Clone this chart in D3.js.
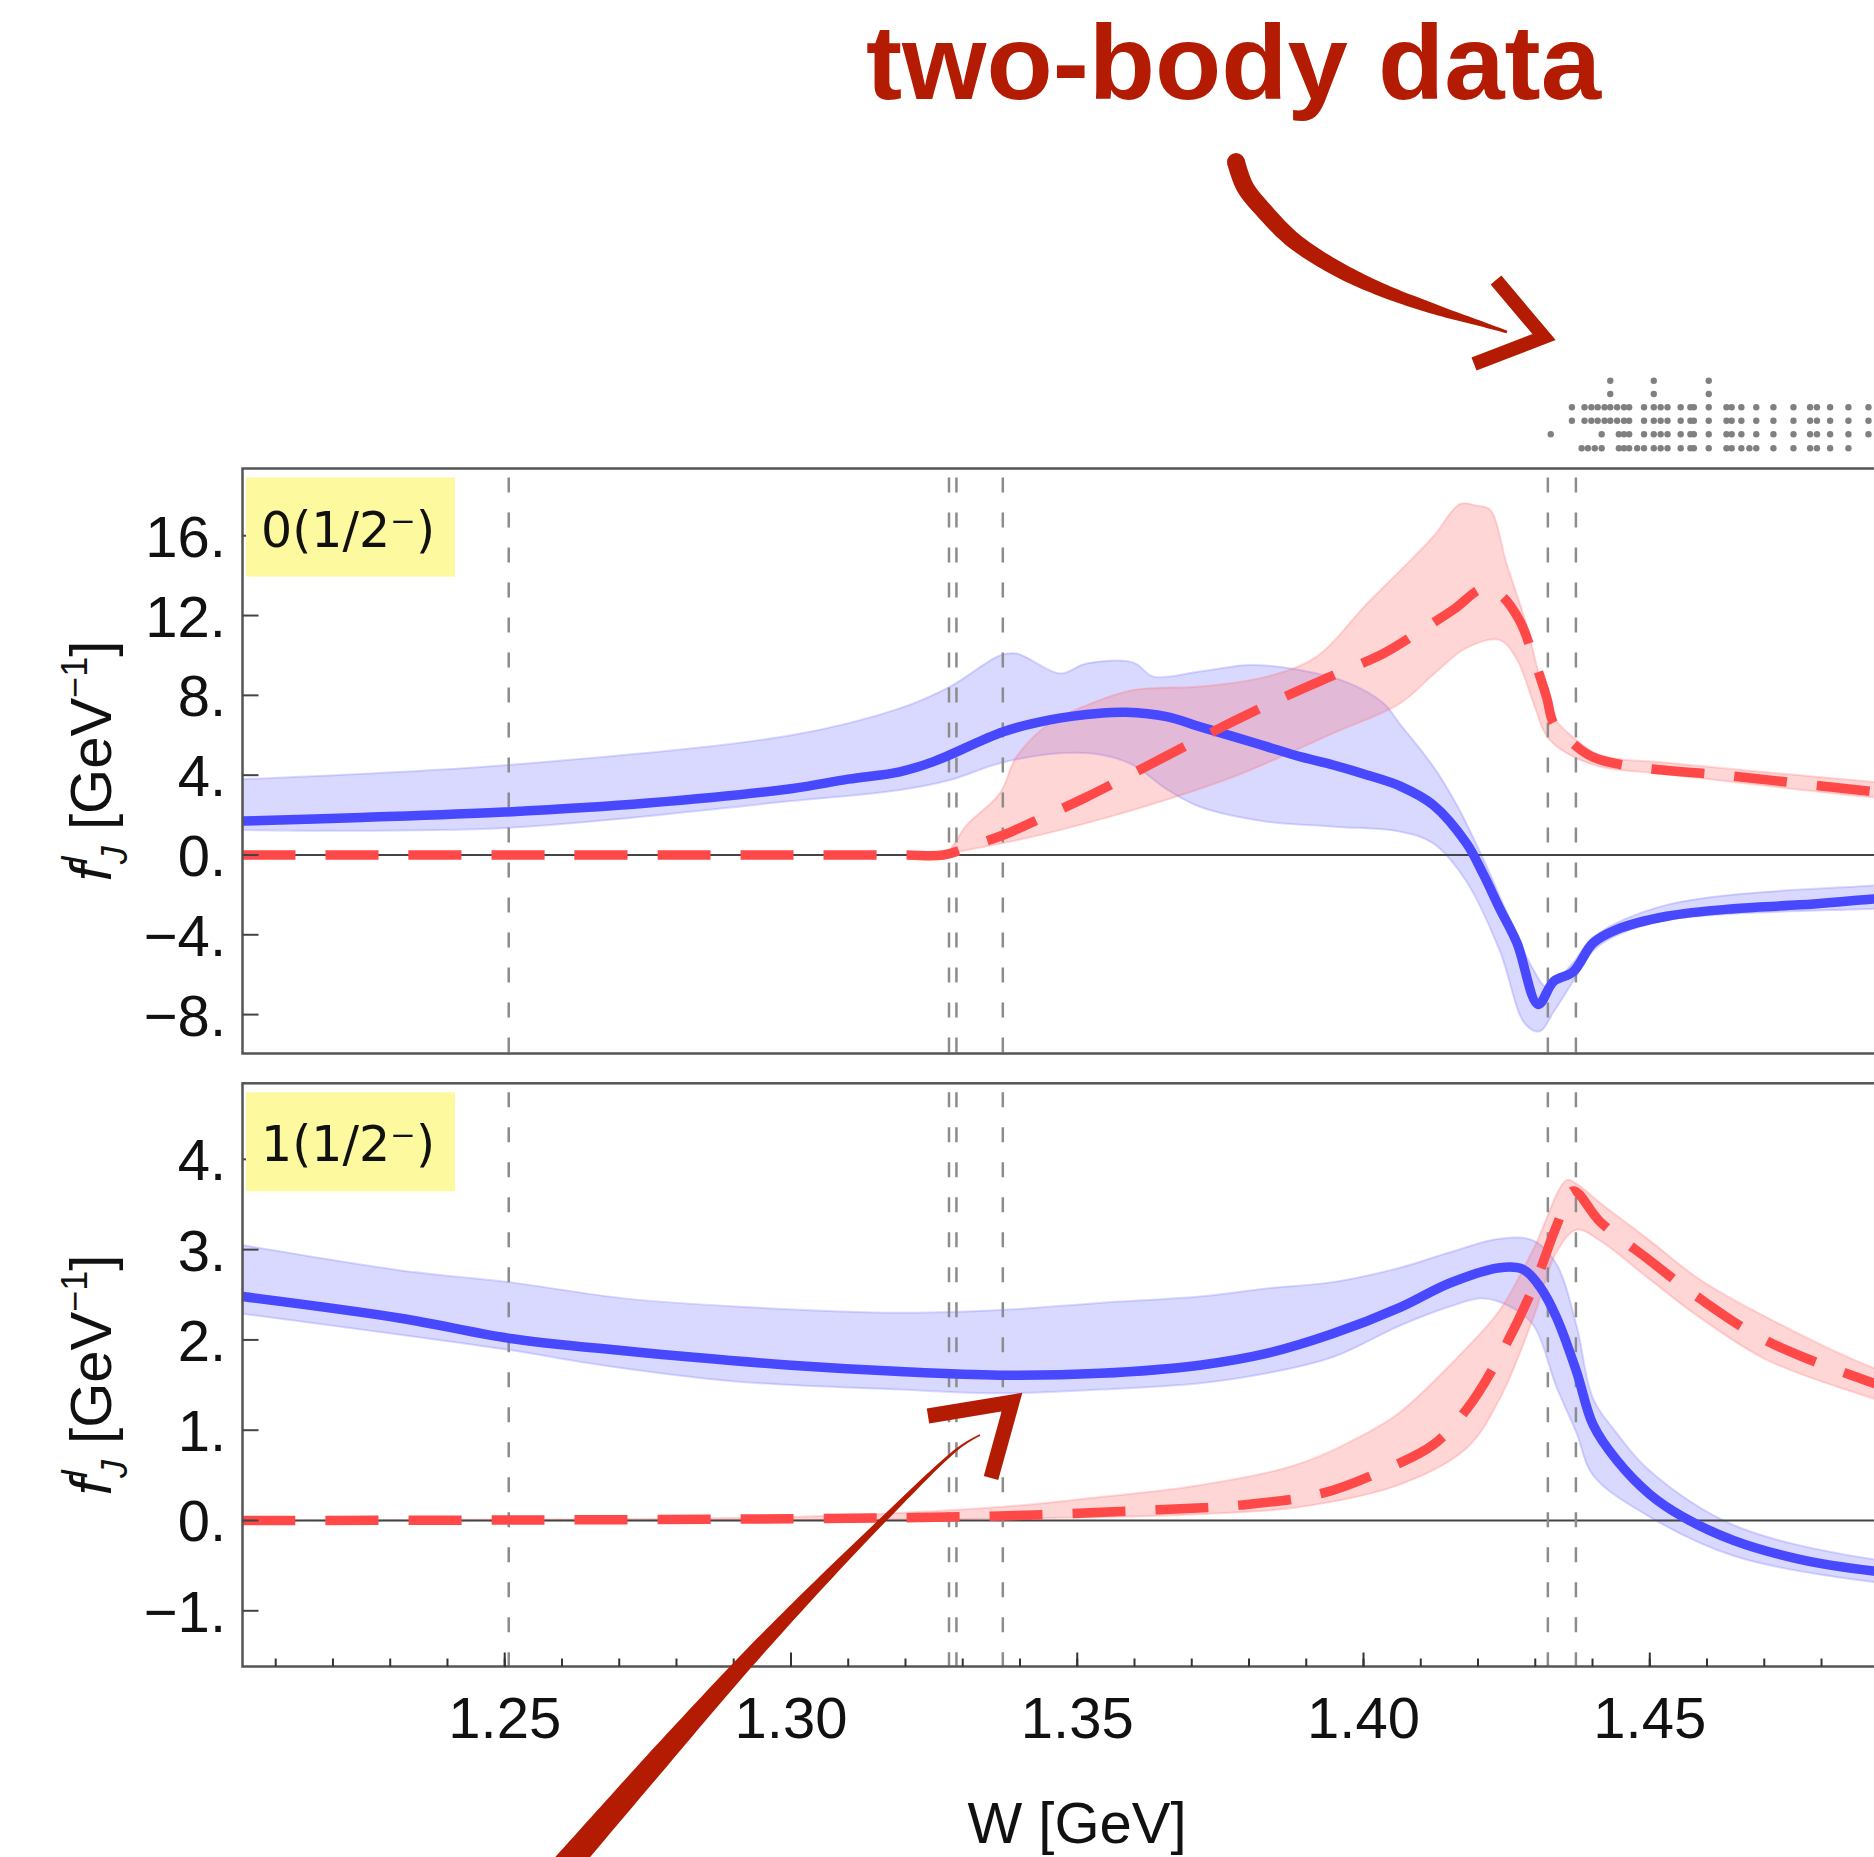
<!DOCTYPE html>
<html><head><meta charset="utf-8">
<script src="https://cdn.jsdelivr.net/npm/d3@7"></script>
<style>html,body{margin:0;padding:0;background:#fff;overflow:hidden}</style>
</head><body><svg id="c" width="1874" height="1857" xmlns="http://www.w3.org/2000/svg"></svg>
<script>
// ---------------- data ----------------
const thresholds = [1.2507, 1.3276, 1.3289, 1.3370, 1.4322, 1.4371];
const xTicksMajor = [1.25, 1.30, 1.35, 1.40, 1.45, 1.50];
const xTicksMinor = d3.range(121, 155).map(d => d / 100);
const yTicksTop = [-8, -4, 0, 4, 8, 12, 16];
const yTicksBot = [-1, 0, 1, 2, 3, 4];
const panelLabels = ["0(1/2\u207B)", "1(1/2\u207B)"];

// top panel, I=0
const topBlueLine = [[1.2042,1.70],[1.225,1.88],[1.25,2.15],[1.275,2.6],[1.30,3.32],[1.31,3.8],[1.319,4.17],[1.3249,4.68],[1.3371,6.18],[1.3452,6.77],[1.354,7.10],[1.3585,7.15],[1.3656,6.93],[1.3714,6.43],[1.3773,5.93],[1.3831,5.43],[1.3889,4.93],[1.3947,4.51],[1.4006,4.01],[1.4064,3.45],[1.4122,2.5],[1.418,0.58],[1.4209,-0.95],[1.4238,-2.69],[1.4268,-4.41],[1.4305,-7.49],[1.4332,-6.34],[1.4366,-5.86],[1.4401,-4.41],[1.4442,-3.74],[1.453,-3.07],[1.4646,-2.69],[1.4762,-2.50],[1.4891,-2.21],[1.50,-2.0]];
const topBlueHi = [[1.2042,3.8],[1.25,4.5],[1.30,6.0],[1.319,7.35],[1.3278,8.44],[1.3365,10.0],[1.3394,10.1],[1.347,9.1],[1.3516,9.6],[1.3598,9.64],[1.3633,8.94],[1.3714,9.19],[1.3802,9.52],[1.3889,9.27],[1.3976,8.6],[1.4035,7.6],[1.4064,6.55],[1.4122,4.43],[1.4163,2.5],[1.4209,-0.19],[1.4256,-3.26],[1.4297,-5.76],[1.432,-6.6],[1.4366,-5.4],[1.4401,-4.13],[1.453,-2.5],[1.4891,-1.53],[1.50,-1.4]];
const topBlueLo = [[1.2042,1.25],[1.25,1.35],[1.30,2.7],[1.319,3.26],[1.3278,3.76],[1.3365,4.6],[1.347,5.1],[1.3545,5.0],[1.3598,4.5],[1.3656,3.3],[1.3714,2.42],[1.3831,1.67],[1.3947,1.42],[1.4064,1.17],[1.4122,0.58],[1.418,-1.34],[1.4238,-4.8],[1.4282,-8.46],[1.4308,-8.84],[1.4332,-7.87],[1.4366,-6.34],[1.4401,-4.8],[1.4442,-4.03],[1.453,-3.26],[1.4891,-2.69],[1.50,-2.6]];
const topRedLine = [[1.2042,0],[1.23,0],[1.26,0],[1.29,0],[1.31,0],[1.32,0],[1.3266,0],[1.332,0.5],[1.3371,1.0],[1.3441,1.9],[1.3516,2.9],[1.3598,4.1],[1.3685,5.4],[1.3773,6.7],[1.386,7.9],[1.3947,9.0],[1.4035,10.1],[1.4087,11.0],[1.4157,12.3],[1.4209,13.36],[1.4238,13.07],[1.4273,11.73],[1.4297,9.9],[1.432,7.88],[1.4332,6.6],[1.4366,5.58],[1.4401,4.9],[1.4471,4.43],[1.4646,3.95],[1.4891,3.17],[1.50,2.9]];
const topRedHi = [[1.2042,0],[1.23,0],[1.26,0],[1.29,0],[1.31,0],[1.32,0],[1.3266,0],[1.3307,1.5],[1.3365,3.1],[1.3394,4.93],[1.3452,6.6],[1.351,7.43],[1.3598,8.27],[1.3714,8.44],[1.3831,8.94],[1.3918,9.94],[1.4006,12.6],[1.4064,14.25],[1.4122,15.96],[1.4169,17.6],[1.4198,17.5],[1.4221,17.3],[1.425,14.6],[1.4285,11.5],[1.4308,8.9],[1.4332,6.9],[1.4366,5.9],[1.4413,5.0],[1.453,4.62],[1.4891,3.66],[1.50,3.4]];
const topRedLo = [[1.2042,0],[1.23,0],[1.26,0],[1.29,0],[1.31,0],[1.32,0],[1.3266,0],[1.3278,0.08],[1.3423,0.92],[1.3598,2.26],[1.3773,3.92],[1.3947,6.1],[1.4064,7.6],[1.4122,9.04],[1.418,10.38],[1.4238,10.77],[1.4268,9.8],[1.4297,7.6],[1.432,5.96],[1.4355,5.1],[1.4413,4.43],[1.453,4.04],[1.4891,2.89],[1.50,2.7]];

// bottom panel, I=1
const botBlueLine = [[1.2042,2.48],[1.2318,2.24],[1.2506,2.02],[1.2708,1.88],[1.2825,1.81],[1.30,1.72],[1.319,1.65],[1.3365,1.61],[1.354,1.63],[1.3714,1.72],[1.3831,1.85],[1.3947,2.07],[1.4064,2.36],[1.4151,2.63],[1.4238,2.80],[1.4279,2.78],[1.4308,2.59],[1.4337,2.25],[1.4372,1.65],[1.4401,1.06],[1.4442,0.67],[1.45,0.29],[1.4558,0.04],[1.4646,-0.22],[1.4762,-0.43],[1.4891,-0.56],[1.50,-0.62]];
const botBlueHi = [[1.2042,3.05],[1.2318,2.77],[1.2506,2.64],[1.2708,2.46],[1.2903,2.37],[1.319,2.30],[1.3365,2.33],[1.354,2.41],[1.3714,2.48],[1.3831,2.57],[1.3947,2.64],[1.4064,2.80],[1.4151,2.97],[1.4238,3.12],[1.4297,3.10],[1.4337,2.84],[1.4372,2.16],[1.4401,1.35],[1.4442,0.97],[1.45,0.55],[1.4646,-0.05],[1.4891,-0.43],[1.50,-0.48]];
const botBlueLo = [[1.2042,2.29],[1.2506,1.89],[1.267,1.72],[1.2903,1.54],[1.319,1.45],[1.3365,1.41],[1.354,1.45],[1.3714,1.52],[1.3831,1.63],[1.3947,1.81],[1.4064,2.16],[1.4151,2.37],[1.4209,2.46],[1.4256,2.37],[1.4297,2.16],[1.4337,1.48],[1.4372,0.97],[1.4401,0.50],[1.45,0.04],[1.4646,-0.39],[1.4891,-0.68],[1.50,-0.72]];
const botRedLine = [[1.2042,0],[1.25,0.005],[1.30,0.02],[1.3365,0.05],[1.3642,0.12],[1.3784,0.17],[1.3927,0.30],[1.4043,0.58],[1.4122,0.84],[1.418,1.23],[1.4238,1.82],[1.4297,2.59],[1.4337,3.26],[1.4366,3.65],[1.4413,3.31],[1.45,2.88],[1.4587,2.46],[1.4704,1.99],[1.4891,1.52],[1.50,1.3]];
const botRedHi = [[1.2042,0],[1.25,0.01],[1.30,0.04],[1.3365,0.15],[1.354,0.26],[1.3714,0.39],[1.3889,0.63],[1.4006,0.97],[1.4064,1.2],[1.418,1.91],[1.4238,2.33],[1.4297,3.01],[1.4355,3.77],[1.4372,3.73],[1.4413,3.52],[1.45,3.10],[1.4587,2.67],[1.4704,2.25],[1.4891,1.69],[1.50,1.5]];
const botRedLo = [[1.2042,0],[1.27,0],[1.3365,0.02],[1.3714,0.07],[1.3889,0.15],[1.4064,0.4],[1.418,0.80],[1.4238,1.35],[1.4297,2.25],[1.4337,2.97],[1.4372,3.22],[1.4413,3.10],[1.45,2.67],[1.4587,2.25],[1.4704,1.78],[1.4891,1.35],[1.50,1.15]];

// "two-body data" sketch: W positions of grey data dots, one array per row (top row first)
const dotRows = [
  [1.4431, 1.4507, 1.4603],
  [1.4431, 1.4507, 1.4603],
  [1.4364, 1.4386, 1.4398, 1.4409, 1.4421, 1.4431, 1.4443, 1.4455, 1.4464, 1.4490, 1.4507, 1.4519, 1.4531, 1.4554, 1.4571, 1.4577, 1.4603, 1.4634, 1.4643, 1.4660, 1.4686, 1.4716, 1.4751, 1.4780, 1.4792, 1.4815, 1.4847, 1.4882],
  [1.4364, 1.4386, 1.4398, 1.4409, 1.4421, 1.4431, 1.4443, 1.4455, 1.4464, 1.4490, 1.4507, 1.4519, 1.4531, 1.4554, 1.4571, 1.4577, 1.4603, 1.4634, 1.4643, 1.4660, 1.4686, 1.4716, 1.4751, 1.4780, 1.4792, 1.4815, 1.4847, 1.4882],
  [1.4327, 1.4416, 1.4446, 1.4455, 1.4464, 1.4490, 1.4507, 1.4519, 1.4531, 1.4554, 1.4571, 1.4577, 1.4603, 1.4634, 1.4643, 1.4660, 1.4686, 1.4716, 1.4751, 1.4780, 1.4792, 1.4815, 1.4847, 1.4882],
  [1.4381, 1.4392, 1.4404, 1.4416, 1.4446, 1.4455, 1.4464, 1.4478, 1.4490, 1.4507, 1.4519, 1.4531, 1.4554, 1.4571, 1.4577, 1.4603, 1.4634, 1.4643, 1.4660, 1.4674, 1.4686, 1.4716, 1.4751, 1.4780, 1.4792, 1.4815, 1.4847]
];

// ---------------- drawing ----------------
const svg = d3.select("#c");
const FONT = "'Liberation Sans', Arial, Helvetica, sans-serif";
const BLUE = "#4848ff", RED = "#ff4848";
const x = d3.scaleLinear().domain([1.2042, 1.55]).range([242.5, 2222.3]);

const panels = [
  { y: d3.scaleLinear().domain([-9.95, 19.37]).range([1053.5, 468.5]), ticks: yTicksTop, label: panelLabels[0],
    blue: topBlueLine, blueHi: topBlueHi, blueLo: topBlueLo, red: topRedLine, redHi: topRedHi, redLo: topRedLo, xAxis: false },
  { y: d3.scaleLinear().domain([-1.617, 4.842]).range([1666.5, 1083.3]), ticks: yTicksBot, label: panelLabels[1],
    blue: botBlueLine, blueHi: botBlueHi, blueLo: botBlueLo, red: botRedLine, redHi: botRedHi, redLo: botRedLo, xAxis: true }
];

const fmtY = v => (v < 0 ? "\u2212" : "") + Math.abs(v) + ".";

panels.forEach((p, i) => {
  const [yb, yt] = p.y.range();
  const x0 = x.range()[0];
  const cid = "clip" + i;
  svg.append("clipPath").attr("id", cid).append("rect")
    .attr("x", x0).attr("y", yt).attr("width", 2000).attr("height", yb - yt);
  const g = svg.append("g").attr("clip-path", `url(#${cid})`);
  const line = d3.line().x(d => x(d[0])).y(d => p.y(d[1])).curve(d3.curveCatmullRom.alpha(0.5));
  const band = (hi, lo) => line(hi) + "L" + line(lo.slice().reverse()).slice(1) + "Z";

  g.append("path").attr("d", band(p.blueHi, p.blueLo))
    .attr("fill", "#4b4bff").attr("fill-opacity", 0.21)
    .attr("stroke", "#6a6aff").attr("stroke-opacity", 0.25).attr("stroke-width", 2);
  g.append("path").attr("d", band(p.redHi, p.redLo))
    .attr("fill", "#ff5a5a").attr("fill-opacity", 0.25)
    .attr("stroke", "#ff6a6a").attr("stroke-opacity", 0.25).attr("stroke-width", 2);

  // zero line
  g.append("line").attr("x1", x0).attr("x2", 1874).attr("y1", p.y(0)).attr("y2", p.y(0))
    .attr("stroke", "#444").attr("stroke-width", 2);

  // threshold lines
  g.selectAll(".thr").data(thresholds).join("line")
    .attr("x1", d => x(d)).attr("x2", d => x(d)).attr("y1", yt).attr("y2", yb)
    .attr("stroke", "#8c8c8c").attr("stroke-width", 2.5)
    .attr("stroke-dasharray", "15,20").attr("stroke-dashoffset", -9);

  g.append("path").attr("d", line(p.blue)).attr("fill", "none")
    .attr("stroke", BLUE).attr("stroke-width", 9.5).attr("stroke-linejoin", "round");
  g.append("path").attr("d", line(p.red)).attr("fill", "none")
    .attr("stroke", RED).attr("stroke-width", 9.5).attr("stroke-dasharray", "53,30");

  // frame
  svg.append("rect").attr("x", x0).attr("y", yt).attr("width", 2000).attr("height", yb - yt)
    .attr("fill", "none").attr("stroke", "#555").attr("stroke-width", 2.5);

  // y ticks
  svg.append("g").selectAll("line").data(p.ticks).join("line")
    .attr("x1", x0).attr("x2", x0 + 16).attr("y1", d => p.y(d)).attr("y2", d => p.y(d))
    .attr("stroke", "#444").attr("stroke-width", 2);
  svg.append("g").selectAll("text").data(p.ticks).join("text")
    .attr("x", 226).attr("y", d => p.y(d) + 21)
    .attr("text-anchor", "end").attr("font-family", FONT).attr("font-size", 58).attr("fill", "#111")
    .text(fmtY);

  // yellow label box
  svg.append("rect").attr("x", 246).attr("y", yt + 9).attr("width", 209).attr("height", 99)
    .attr("fill", "#fdf99e");
  svg.append("text").attr("x", 261).attr("y", yt + 78)
    .attr("font-family", "'DejaVu Sans', sans-serif").attr("font-size", 50).attr("fill", "#111")
    .attr("textLength", 174).attr("lengthAdjust", "spacingAndGlyphs")
    .text(p.label);

  // y title
  const cy = (yt + yb) / 2;
  const t = svg.append("text").attr("transform", `translate(111,${cy}) rotate(-90)`)
    .attr("text-anchor", "middle").attr("font-family", FONT).attr("font-size", 58).attr("fill", "#111");
  t.append("tspan").attr("font-style", "italic").text("f");
  t.append("tspan").attr("font-style", "italic").attr("font-size", 36).attr("dy", -24).text("I");
  t.append("tspan").attr("font-style", "italic").attr("font-size", 36).attr("dx", -9).attr("dy", 40).text("J");
  t.append("tspan").attr("dy", -16).text(" [GeV");
  t.append("tspan").attr("font-size", 36).attr("dy", -24).text("\u22121");
  t.append("tspan").attr("dy", 24).text("]");

  if (p.xAxis) {
    const xa = svg.append("g");
    xa.selectAll(".mn").data(xTicksMinor).join("line")
      .attr("x1", d => x(d)).attr("x2", d => x(d)).attr("y1", yb).attr("y2", yb - 8)
      .attr("stroke", "#333").attr("stroke-width", 2);
    xa.selectAll(".mj").data(xTicksMajor).join("line")
      .attr("x1", d => x(d)).attr("x2", d => x(d)).attr("y1", yb).attr("y2", yb - 14)
      .attr("stroke", "#333").attr("stroke-width", 2);
    xa.selectAll("text").data(xTicksMajor.filter(d => x(d) < 1800)).join("text")
      .attr("x", d => x(d)).attr("y", 1738).attr("text-anchor", "middle")
      .attr("font-family", FONT).attr("font-size", 58).attr("fill", "#111")
      .text(d3.format(".2f"));
    svg.append("text").attr("x", 1077).attr("y", 1843).attr("text-anchor", "middle")
      .attr("font-family", FONT).attr("font-size", 58).attr("fill", "#111").text("W [GeV]");
  }
});

// data dots
const dotRowY = [380.7, 394, 407.3, 420.7, 434.3, 448.3];
dotRows.forEach((row, r) => {
  svg.append("g").selectAll("circle").data(row).join("circle")
    .attr("cx", d => x(d)).attr("cy", dotRowY[r]).attr("r", 3.2).attr("fill", "#808080");
});

// ---------------- annotations ----------------
const ANN = "#b31b02";
svg.append("text").attr("x", 866).attr("y", 99).attr("font-family", FONT).attr("font-weight", "bold")
  .attr("font-size", 106).attr("fill", ANN).attr("textLength", 735).attr("lengthAdjust", "spacingAndGlyphs")
  .text("two-body data");

function brush(pts, widths) {
  const tmp = svg.append("path").attr("d", d3.line().curve(d3.curveCatmullRom.alpha(0.5))(pts)).attr("fill", "none");
  const node = tmp.node(), L = node.getTotalLength();
  const n = 80, left = [], right = [];
  const wS = d3.scaleLinear().domain(d3.range(widths.length).map(k => k / (widths.length - 1))).range(widths);
  for (let k = 0; k <= n; k++) {
    const s = k / n, a = node.getPointAtLength(Math.max(0, s * L - 0.5)), b = node.getPointAtLength(Math.min(L, s * L + 0.5));
    const p = node.getPointAtLength(s * L);
    let dx = b.x - a.x, dy = b.y - a.y; const len = Math.hypot(dx, dy) || 1; dx /= len; dy /= len;
    const w = wS(s) / 2;
    left.push([p.x - dy * w, p.y + dx * w]); right.push([p.x + dy * w, p.y - dx * w]);
  }
  tmp.remove();
  svg.append("path").attr("d", "M" + left.concat(right.reverse()).map(q => q.join(",")).join("L") + "Z").attr("fill", ANN);
  svg.append("circle").attr("cx", pts[0][0]).attr("cy", pts[0][1]).attr("r", widths[0] / 2).attr("fill", ANN);
}
brush([[1236,162],[1245,187],[1266,213],[1293,240],[1334,267],[1382,290],[1437,310],[1485,325],[1507,332]], [18, 17, 15, 11, 2.5]);
svg.append("path").attr("d", "M1496,280L1544,337L1474,364").attr("fill", "none")
  .attr("stroke", ANN).attr("stroke-width", 14).attr("stroke-linejoin", "miter");
brush([[560,1872],[750,1657],[890,1513],[960,1447],[980,1435]], [27, 22, 15, 7, 1.5]);
svg.append("path").attr("d", "M928,1416L1012,1402L991,1478").attr("fill", "none")
  .attr("stroke", ANN).attr("stroke-width", 15).attr("stroke-linejoin", "miter");
</script></body></html>
